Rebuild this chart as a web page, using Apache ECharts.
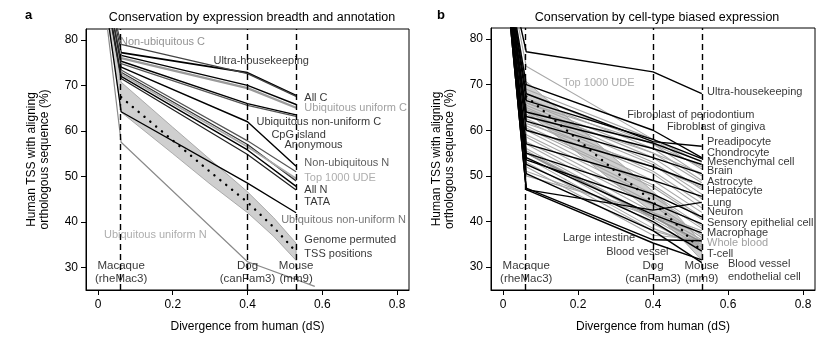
<!DOCTYPE html>
<html>
<head>
<meta charset="utf-8">
<script src="https://cdn.jsdelivr.net/npm/echarts@6/dist/echarts.min.js"></script>
<style>
  html, body { margin: 0; padding: 0; background: #fff; }
  #main { width: 823px; height: 338px; }
</style>
</head>
<body>
<div id="main"></div>
<script>
// species positions (dS from human)
var speciesX = [0, 0.062, 0.4, 0.53];
var speciesNames = ['Macaque\n(rheMac3)', 'Dog\n(canFam3)', 'Mouse\n(mm9)'];
var xTicks = [0, 0.2, 0.4, 0.6, 0.8];
var yTicks = [30, 40, 50, 60, 70, 80];

// panel a: % conserved at macaque, dog, mouse
var aNames = ['Ultra-housekeeping', 'Non-ubiquitous C', 'All C', 'Ubiquitous uniform C',
  'Ubiquitous non-uniform C', 'C other', 'CpG island', 'Anonymous', 'Non-ubiquitous N',
  'Top 1000 UDE', 'All N', 'TATA', 'Ubiquitous non-uniform N'];
var aMacaque = [77.2, 79.0, 76.6, 76.0, 75.3, 74.8, 74.0, 73.4, 72.9, 72.5, 72.0, 71.5, 64.2];
var aDog     = [72.8, 72.6, 70.0, 69.4, 66.0, 65.6, 62.0, 57.8, 57.0, 56.5, 55.8, 54.8, 48.5];
var aMouse   = [67.8, 67.6, 65.8, 65.1, 63.5, 63.2, 52.2, 51.0, 49.0, 49.5, 47.8, 47.0, 42.0];
var aColors  = ['#000', '#444', '#000', '#9a9a9a', '#000', '#555', '#000', '#555', '#333', '#aaa', '#000', '#222', '#000'];
var aWidths  = [1.6, 1.3, 1.4, 2.2, 1.4, 1.2, 1.4, 1.2, 1.3, 1.8, 1.4, 1.3, 1.3];
// ubiquitous uniform N runs off the bottom after dog
var ubiqUniformN = [[0, 100], [0.062, 57.5], [0.4, 31.2], [0.58, 25.8]];

// genome permuted TSS band
var bandX     = [0, 0.062, 0.2, 0.3, 0.4, 0.47, 0.53];
var bandUpper = [100, 70.7, 60.8, 53.7, 46.6, 40.9, 35.3];
var bandLower = [100, 64.1, 55.0, 48.3, 42.0, 36.8, 31.5];
var bandMid   = [null, 67.4, 57.9, 51.0, 44.3, 38.8, 33.4];

// panel b: cell-type biased expression (black)
var bNames = ['Ultra-housekeeping', 'Fibroblast of periodontium', 'Fibroblast of gingiva',
  'Preadipocyte', 'Chondrocyte', 'Mesenchymal cell', 'Brain', 'Astrocyte', 'Hepatocyte',
  'Lung', 'Neuron', 'Sensory epithelial cell', 'Macrophage', 'T-cell',
  'Blood vessel endothelial cell', 'Large intestine', 'Blood vessel'];
var bMacaque = [77.2, 70.0, 64.0, 68.0, 66.5, 63.0, 62.0, 60.0, 57.0, 47.0, 55.0, 53.5, 54.0, 52.5, 50.5, 47.3, 47.0];
var bDog     = [72.8, 60.0, 57.2, 57.5, 58.0, 56.0, 54.0, 52.0, 49.0, 42.5, 46.0, 44.0, 41.5, 40.0, 38.0, 36.0, 35.3];
var bMouse   = [68.0, 54.0, 53.2, 56.5, 53.8, 52.5, 50.5, 48.0, 45.5, 44.2, 41.0, 39.5, 37.5, 33.5, 31.0, 35.8, 31.6];

// panel b: other cell types (grey)
var gMacaque = [74.0, 69.0, 68.0, 67.0, 66.0, 66.0, 65.5, 65.0, 64.5, 64.0, 63.5, 62.5, 62.0, 61.5, 61.0,
  60.5, 60.0, 59.0, 58.5, 57.5, 57.0, 56.0, 55.5, 55.0, 55.0, 54.0, 53.0, 52.0, 51.0, 50.0];
var gDog     = [58.0, 58.0, 57.0, 56.0, 57.0, 55.0, 54.0, 53.0, 55.0, 52.5, 51.0, 50.5, 49.0, 52.0, 48.0,
  47.5, 46.0, 45.5, 44.0, 43.5, 42.0, 41.0, 40.5, 41.0, 39.5, 38.5, 38.0, 37.0, 41.0, 42.0];
var gMouse   = [53.0, 51.5, 50.0, 49.0, 52.0, 48.5, 47.0, 46.0, 50.5, 45.0, 44.0, 43.0, 42.0, 47.5, 41.0,
  40.5, 39.0, 38.5, 37.0, 36.5, 36.0, 35.0, 34.5, 35.5, 34.0, 34.5, 35.0, 36.0, 37.5, 38.0];

// labels: [x, y, text, colour]
var aLabels = [
  [0.059, 79.6, 'Non-ubiquitous C', '#777'],
  [0.309, 75.3, 'Ultra-housekeeping', '#000'],
  [0.552, 67.2, 'All C', '#000'],
  [0.552, 65.0, 'Ubiquitous uniform C', '#888'],
  [0.424, 62.0, 'Ubiquitous non-uniform C', '#000'],
  [0.464, 59.1, 'CpG island', '#000'],
  [0.499, 57.0, 'Anonymous', '#000'],
  [0.552, 53.0, 'Non-ubiquitous N', '#333'],
  [0.552, 49.6, 'Top 1000 UDE', '#999'],
  [0.552, 47.0, 'All N', '#000'],
  [0.552, 44.3, 'TATA', '#000'],
  [0.49, 40.4, 'Ubiquitous non-uniform N', '#555'],
  [0.552, 36.1, 'Genome permuted', '#000'],
  [0.552, 33.0, 'TSS positions', '#000'],
  [0.016, 37.0, 'Ubiquitous uniform N', '#999']
];
var bLabels = [
  [0.544, 68.3, 'Ultra-housekeeping', '#000'],
  [0.16, 70.4, 'Top 1000 UDE', '#999'],
  [0.331, 63.3, 'Fibroblast of periodontium', '#000'],
  [0.437, 60.7, 'Fibroblast of gingiva', '#000'],
  [0.544, 57.4, 'Preadipocyte', '#000'],
  [0.544, 55.0, 'Chondrocyte', '#000'],
  [0.544, 53.1, 'Mesenchymal cell', '#000'],
  [0.544, 51.1, 'Brain', '#000'],
  [0.544, 48.7, 'Astrocyte', '#000'],
  [0.544, 46.7, 'Hepatocyte', '#000'],
  [0.544, 44.1, 'Lung', '#000'],
  [0.544, 42.0, 'Neuron', '#000'],
  [0.544, 39.6, 'Sensory epithelial cell', '#000'],
  [0.544, 37.4, 'Macrophage', '#000'],
  [0.544, 35.2, 'Whole blood', '#888'],
  [0.544, 33.0, 'T-cell', '#000'],
  [0.6, 29.3, 'Blood vessel\nendothelial cell', '#000'],
  [0.16, 36.5, 'Large intestine', '#000'],
  [0.275, 33.3, 'Blood vessel', '#000']
];

var FONT = 'Liberation Sans';

function pts(m, d, mo) {
  return [[speciesX[0], 100], [speciesX[1], m], [speciesX[2], d], [speciesX[3], mo]];
}

function lineSeries(idx, data, color, width, z) {
  return {
    type: 'line', xAxisIndex: idx, yAxisIndex: idx, data: data,
    symbol: 'none', silent: true, z: z || 3,
    lineStyle: { color: color, width: width }
  };
}

function bandSeries(idx) {
  return {
    type: 'custom', xAxisIndex: idx, yAxisIndex: idx, silent: true, z: 2,
    data: [[0, 0]],
    renderItem: function (params, api) {
      var poly = [];
      for (var i = 0; i < bandX.length; i++) poly.push(api.coord([bandX[i], bandUpper[i]]));
      for (var j = bandX.length - 1; j >= 0; j--) poly.push(api.coord([bandX[j], bandLower[j]]));
      var cs = params.coordSys;
      return {
        type: 'polygon',
        shape: { points: poly },
        style: { fill: '#cfcfcf', stroke: '#9a9a9a', lineWidth: 0.8 },
        clipPath: { type: 'rect', shape: { x: cs.x, y: cs.y, width: cs.width, height: cs.height } }
      };
    }
  };
}

function dotSeries(idx) {
  var d = [];
  for (var i = 1; i < bandX.length; i++) d.push([bandX[i], bandMid[i]]);
  return {
    type: 'line', xAxisIndex: idx, yAxisIndex: idx, data: d, symbol: 'none', silent: true, z: 4,
    lineStyle: { color: '#000', width: 2.4, type: [0.1, 7.5], cap: 'round' }
  };
}

function dashSeries(idx) {
  return {
    type: 'line', xAxisIndex: idx, yAxisIndex: idx, data: [], silent: true, z: 1,
    markLine: {
      silent: true, symbol: 'none', label: { show: false },
      lineStyle: { color: '#000', width: 1.4, type: [6, 4] },
      data: [{ xAxis: speciesX[1] }, { xAxis: speciesX[2] }, { xAxis: speciesX[3] }]
    }
  };
}

function labelSeries(idx, labels) {
  var d = labels.map(function (l) {
    return { value: [l[0], l[1]], name: l[2], label: { color: l[3] } };
  });
  // species names, centred on their dashed lines
  for (var i = 0; i < speciesNames.length; i++) {
    d.push({ value: [speciesX[i + 1], 28.9], name: speciesNames[i],
      label: { color: '#000', align: 'center', fontSize: 11.5 } });
  }
  return {
    type: 'scatter', xAxisIndex: idx, yAxisIndex: idx, data: d, symbolSize: 0, silent: true, z: 6,
    label: {
      show: true, position: [0, 0], align: 'left', verticalAlign: 'middle',
      fontFamily: FONT, fontSize: 11, lineHeight: 13,
      formatter: function (p) { return p.name; }
    }
  };
}

function xAxis(idx) {
  return {
    type: 'value', gridIndex: idx, min: -0.032, max: 0.832,
    name: 'Divergence from human (dS)', nameLocation: 'middle', nameGap: 31,
    nameTextStyle: { fontFamily: FONT, fontSize: 12, color: '#000' },
    axisLine: { show: true, onZero: false, lineStyle: { color: '#000', width: 1 } },
    axisTick: { show: true, length: 5, customValues: xTicks, lineStyle: { color: '#000' } },
    axisLabel: { customValues: xTicks, fontFamily: FONT, fontSize: 12, color: '#000', margin: 9,
      formatter: function (v) { return v === 0 ? '0' : String(+v.toFixed(1)); } },
    splitLine: { show: false }
  };
}

function yAxis(idx) {
  return {
    type: 'value', gridIndex: idx, min: 25, max: 82.4,
    name: 'Human TSS with aligning\northologous sequence (%)', nameLocation: 'middle', nameGap: 35,
    nameTextStyle: { fontFamily: FONT, fontSize: 12, color: '#000', lineHeight: 13 },
    axisLine: { show: true, onZero: false, lineStyle: { color: '#000', width: 1 } },
    axisTick: { show: true, length: 5, customValues: yTicks, lineStyle: { color: '#000' } },
    axisLabel: { customValues: yTicks, fontFamily: FONT, fontSize: 12, color: '#000', margin: 8 },
    splitLine: { show: false }
  };
}

var series = [];
// panel a
series.push(dashSeries(0), bandSeries(0), dotSeries(0));
for (var i = 0; i < aNames.length; i++) {
  series.push(lineSeries(0, pts(aMacaque[i], aDog[i], aMouse[i]), aColors[i], aWidths[i]));
}
series.push(lineSeries(0, ubiqUniformN, '#8a8a8a', 1.2));
series.push(labelSeries(0, aLabels));
// panel b
series.push(dashSeries(1), bandSeries(1), dotSeries(1));
for (var g = 0; g < gMacaque.length; g++) {
  series.push(lineSeries(1, pts(gMacaque[g], gDog[g], gMouse[g]), '#a8a8a8', 1.1, 3));
}
series.push(lineSeries(1, pts(55.0, 41.0, 35.5), '#8c8c8c', 1.4, 3)); // whole blood
for (var k = 0; k < bNames.length; k++) {
  series.push(lineSeries(1, pts(bMacaque[k], bDog[k], bMouse[k]), '#000', 1.4, 5));
}
series.push(labelSeries(1, bLabels));

var chart = echarts.init(document.getElementById('main'), null, { renderer: 'canvas' });
chart.setOption({
  backgroundColor: '#fff',
  animation: false,
  textStyle: { fontFamily: FONT },
  title: [
    { text: 'a', left: 20, top: 4, textStyle: { fontFamily: FONT, fontSize: 13, fontWeight: 'bold', color: '#000' } },
    { text: 'Conservation by expression breadth and annotation', left: 247, top: 6, textAlign: 'center',
      textStyle: { fontFamily: FONT, fontSize: 12.5, fontWeight: 'normal', color: '#000' } },
    { text: 'b', left: 432, top: 4, textStyle: { fontFamily: FONT, fontSize: 13, fontWeight: 'bold', color: '#000' } },
    { text: 'Conservation by cell-type biased expression', left: 652, top: 6, textAlign: 'center',
      textStyle: { fontFamily: FONT, fontSize: 12.5, fontWeight: 'normal', color: '#000' } }
  ],
  grid: [
    { left: 86, top: 29, width: 323, height: 264, show: true, borderColor: '#000', borderWidth: 1, backgroundColor: 'transparent' },
    { left: 491, top: 28, width: 324, height: 265, show: true, borderColor: '#000', borderWidth: 1, backgroundColor: 'transparent' }
  ],
  xAxis: [xAxis(0), xAxis(1)],
  yAxis: [yAxis(0), yAxis(1)],
  series: series
});
</script>
</body>
</html>
